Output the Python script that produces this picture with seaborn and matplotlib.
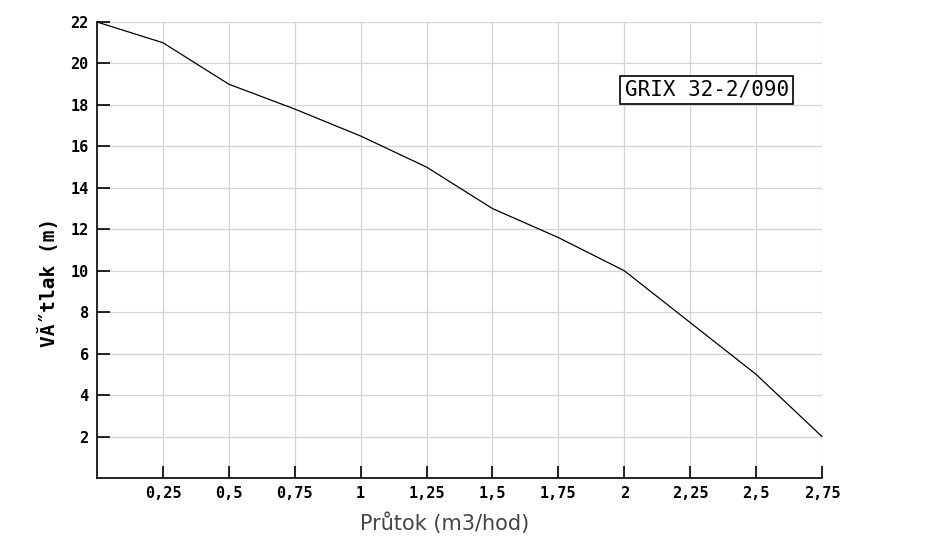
import matplotlib
matplotlib.use("Agg")
import matplotlib.pyplot as plt
import seaborn as sns
import pandas as pd

# pump curve
flow = [0, 0.25, 0.5, 0.75, 1, 1.25, 1.5, 1.75, 2, 2.25, 2.5, 2.75]
head = [22, 21, 19, 17.8, 16.5, 15, 13, 11.6, 10, 7.5, 5, 2]
x_ticks = [0.25, 0.5, 0.75, 1, 1.25, 1.5, 1.75, 2, 2.25, 2.5, 2.75]
x_tick_labels = ["0,25", "0,5", "0,75", "1", "1,25", "1,5", "1,75", "2", "2,25", "2,5", "2,75"]
y_ticks = [2, 4, 6, 8, 10, 12, 14, 16, 18, 20, 22]
pump_name = "GRIX 32-2/090"

df = pd.DataFrame({"flow": flow, "head": head})

sns.set_theme(style="white")
plt.rcParams["font.family"] = ["DejaVu Sans Mono", "DejaVu Sans"]

fig = plt.figure(figsize=(9.3, 5.54), dpi=100)
ax = fig.add_axes([97 / 930, 76 / 554, 725 / 930, 456 / 554])

sns.lineplot(data=df, x="flow", y="head", ax=ax, color="black", linewidth=0.9, clip_on=False)

ax.set_xlim(0, 2.75)
ax.set_ylim(0, 22)
ax.set_xticks(x_ticks)
ax.set_xticklabels(x_tick_labels)
ax.set_yticks(y_ticks)
ax.grid(True, color="#d4d4d4", linewidth=0.9)
ax.set_axisbelow(True)

for side in ["top", "right"]:
    ax.spines[side].set_visible(False)
for side in ["left", "bottom"]:
    ax.spines[side].set_color("black")
    ax.spines[side].set_linewidth(1.2)

ax.tick_params(axis="both", direction="in", length=9, width=1.2, color="black",
               labelsize=11, pad=6, left=True, bottom=True)
for lab in ax.get_xticklabels() + ax.get_yticklabels():
    lab.set_fontweight("bold")
    lab.set_color("black")

ax.set_xlabel("Průtok (m3/hod)", fontsize=15, color="#444444",
              family=["DejaVu Sans"])
ax.xaxis.set_label_coords(0.48, -0.075)
ax.set_ylabel("VĂ˝tlak (m)", fontsize=14, fontweight="bold", color="black")
ax.yaxis.set_label_coords(-0.053, 0.43)

ax.text(0.841, 0.851, pump_name, transform=ax.transAxes, ha="center", va="center",
        fontsize=15, color="black",
        bbox=dict(boxstyle="square,pad=0.2", facecolor="white", edgecolor="black", linewidth=1.2))

fig.savefig("out.png", dpi=100, facecolor="white")
